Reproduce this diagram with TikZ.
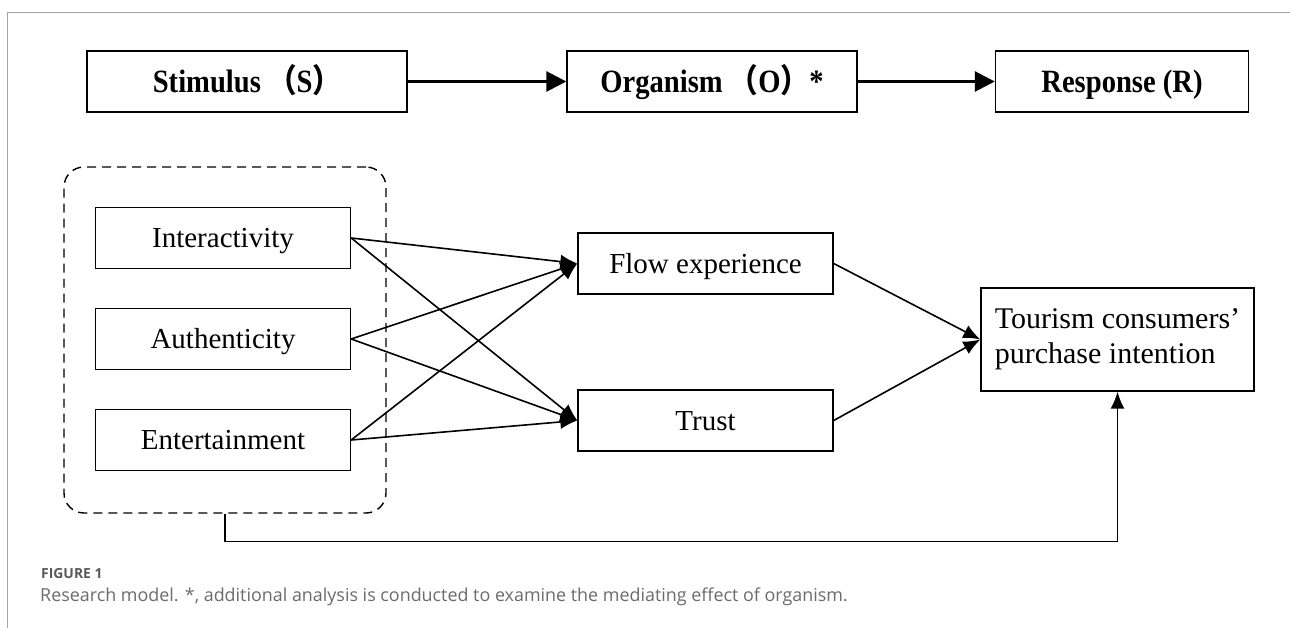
\documentclass[tikz,border=0pt]{standalone}
\usepackage{fontspec}
\setmainfont{Liberation Serif}
\newfontfamily\cjk{Noto Sans CJK SC}
\newfontfamily\capfont{Open Sans}
\usetikzlibrary{arrows.meta}
\newcommand{\narrow}[1]{\scalebox{0.88}[1]{#1}}

\begin{document}
\begin{tikzpicture}[x=1pt, y=-1pt,
  stage/.style={draw, line width=1.4pt, minimum height=61pt, inner sep=0pt, text height=21.5pt, text depth=0pt, font=\fontsize{32.5}{38}\selectfont\bfseries},
  factor/.style={draw, line width=1.4pt, minimum width=255pt, minimum height=61pt, inner sep=0pt, text height=19pt, text depth=0pt, font=\fontsize{29}{34}\selectfont},
  group/.style={draw, line width=1.4pt, dash pattern=on 9pt off 6pt, rounded corners=20pt, minimum width=322pt, minimum height=346pt, inner sep=0pt},
  bigarrow/.style={line width=2.8pt, -{Triangle[length=20pt,width=20pt]}},
  link/.style={line width=1.6pt, -{Latex[length=17pt,width=14pt]}}]
\useasboundingbox (0,0) rectangle (1290,628);
\draw[gray!70, line width=1pt] (1290,13) -- (7,13) -- (7,628);

\node[stage, minimum width=320pt] (stim) at (247,81.5) {\narrow{Stimulus {\cjk （}S{\cjk ）}}};
\node[stage, minimum width=290pt] (org) at (712,81.5) {\narrow{Organism {\cjk （}O{\cjk ）}*}};
\node[stage, minimum width=253pt] (resp) at (1122,81.5) {\narrow{Response (R)}};
\draw[bigarrow] (stim) -- (org);
\draw[bigarrow] (org) -- (resp);

\node[group] (grp) at (225,340) {};
\node[factor] (inter) at (223,238) {Interactivity};
\node[factor] (auth) at (223,339) {Authenticity};
\node[factor] (ent) at (223,440) {Entertainment};
\node[factor] (flow) at (705.5,263.5) {Flow experience};
\node[factor] (trust) at (705.5,420.5) {Trust};
\node[draw, line width=1.4pt, minimum width=273pt, minimum height=103pt, inner sep=0pt, align=left, font=\fontsize{30}{35}\selectfont] (buy) at (1117.5,339.5) {Tourism consumers’\\purchase intention};

\draw[link] (inter.east) -- (flow.west);
\draw[link] (inter.east) -- (trust.west);
\draw[link] (auth.east) -- (flow.west);
\draw[link] (auth.east) -- (trust.west);
\draw[link] (ent.east) -- (flow.west);
\draw[link] (ent.east) -- (trust.west);
\draw[link] (flow.east) -- (buy.west);
\draw[link] (trust.east) -- (buy.west);
\coordinate (turn) at (225,541.5);
\draw[link] (grp.south) -- (turn) -| (buy.south);

\node[anchor=west, inner sep=0pt, text=black!65, font=\capfont\bfseries\fontsize{13.9}{16}\selectfont] (fig) at (41,574) {FIGURE 1};
\node[anchor=west, inner sep=0pt, text=black!58, font=\capfont\fontsize{17.9}{21}\selectfont] (cap) at (40,597) {Research model. *, additional analysis is conducted to examine the mediating effect of organism.};
\end{tikzpicture}
\end{document}
